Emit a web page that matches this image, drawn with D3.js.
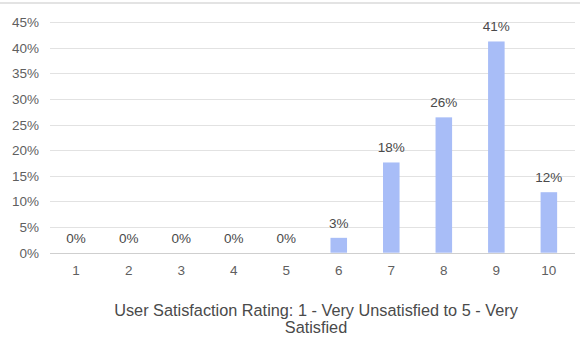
<!DOCTYPE html>
<html>
<head>
<meta charset="utf-8">
<script src="https://cdn.jsdelivr.net/npm/d3@7"></script>
<style>
  body { margin: 0; background: #fff; }
  text { font-family: "Liberation Sans", Arial, sans-serif; }
</style>
</head>
<body>
<script>
// rating buckets and share of responses
var ratings = ["1", "2", "3", "4", "5", "6", "7", "8", "9", "10"];
var shares = [0, 0, 0, 0, 0, 2.9, 17.6, 26.4, 41.2, 11.8];
var yTicks = [0, 5, 10, 15, 20, 25, 30, 35, 40, 45];
var titleLines = ["User Satisfaction Rating: 1 - Very Unsatisfied to 5 - Very", "Satisfied"];

var w = 580, h = 340;

var svg = d3.select("body").append("svg")
  .attr("width", w)
  .attr("height", h);

// thin frame line at the very top
svg.append("line")
  .attr("x1", 0).attr("x2", w)
  .attr("y1", 3).attr("y2", 3)
  .attr("stroke", "#e3e3e3")
  .attr("stroke-width", 2);

var x = d3.scaleBand()
  .domain(ratings)
  .range([50, 575])
  .paddingInner(0.685)
  .paddingOuter(0.34);

var y = d3.scaleLinear()
  .domain([0, 45])
  .range([252.7, 22]);

// gridlines
svg.append("g").selectAll("line").data(yTicks).enter().append("line")
  .attr("x1", 50).attr("x2", 575)
  .attr("y1", function(d) { return Math.round(y(d)) + 0.5; })
  .attr("y2", function(d) { return Math.round(y(d)) + 0.5; })
  .attr("stroke", function(d) { return d === 0 ? "#cfcfcf" : "#e2e2e2"; })
  .attr("stroke-width", 1);

// y labels
svg.append("g").selectAll("text").data(yTicks).enter().append("text")
  .attr("x", 39)
  .attr("y", function(d) { return y(d) + 5; })
  .attr("text-anchor", "end")
  .attr("font-size", 13.5)
  .attr("fill", "#5f5f5f")
  .text(function(d) { return d + "%"; });

// bars
svg.append("g").selectAll("rect").data(shares).enter().append("rect")
  .attr("x", function(d, i) { return x(ratings[i]); })
  .attr("width", x.bandwidth())
  .attr("y", function(d) { return y(d); })
  .attr("height", function(d) { return y(0) - y(d); })
  .attr("fill", "#a8bdf7");

// value labels
svg.append("g").selectAll("text").data(shares).enter().append("text")
  .attr("x", function(d, i) { return x(ratings[i]) + x.bandwidth() / 2; })
  .attr("y", function(d) { return y(d) - 10; })
  .attr("text-anchor", "middle")
  .attr("font-size", 13.5)
  .attr("fill", "#4a4a4a")
  .text(function(d) { return Math.round(d) + "%"; });

// x labels
svg.append("g").selectAll("text").data(ratings).enter().append("text")
  .attr("x", function(d) { return x(d) + x.bandwidth() / 2; })
  .attr("y", 275)
  .attr("text-anchor", "middle")
  .attr("font-size", 13.5)
  .attr("fill", "#5f5f5f")
  .text(function(d) { return d; });

// axis title
svg.append("g").selectAll("text").data(titleLines).enter().append("text")
  .attr("x", 316)
  .attr("y", function(d, i) { return 316 + i * 17; })
  .attr("text-anchor", "middle")
  .attr("font-size", 16.3)
  .attr("fill", "#4a4a4a")
  .text(function(d) { return d; });
</script>
</body>
</html>
